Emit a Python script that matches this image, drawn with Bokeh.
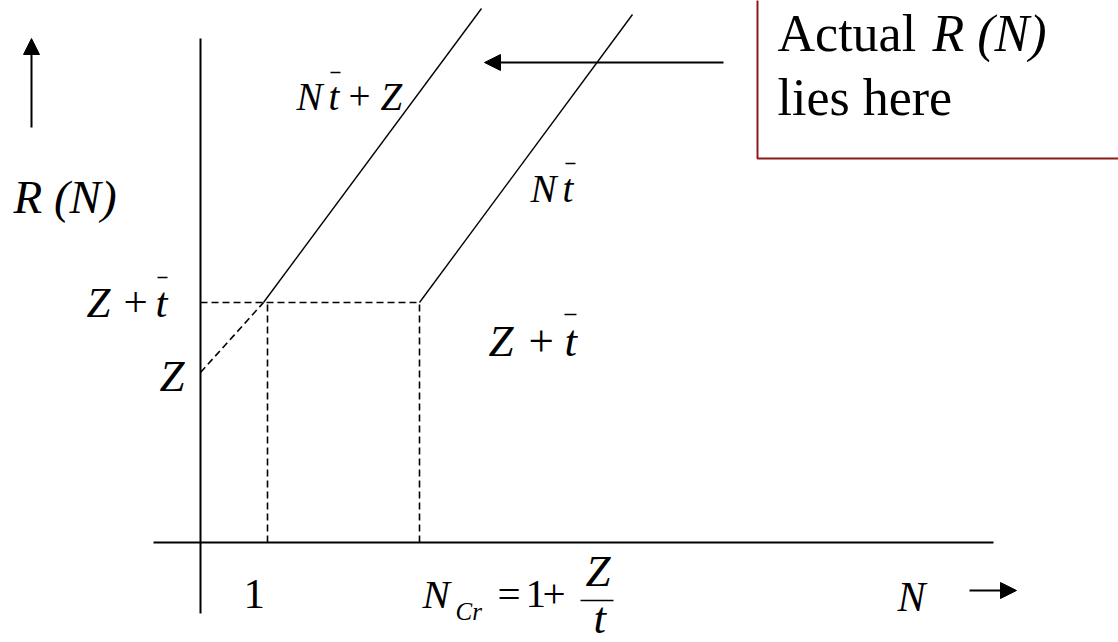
from bokeh.plotting import figure
from bokeh.models import Range1d, Arrow, NormalHead
from bokeh.core.properties import value
from bokeh.embed import file_html
from bokeh.resources import INLINE

# ---- schematic values (diagram units, origin at the axes crossing) ----
axis_x = [[0, 0], [-47, 793]]
axis_y = [[-71, 504], [0, 0]]

# R(N) = N*t + Z (upper line) and R(N) = N*t (lower line)
solid_x = [[63, 281], [219, 432]]
solid_y = [[240, 534], [240, 528]]

# dashed guides: Z -> Z+t, level Z+t, drops at N=1 and N_Cr
dashed_x = [[0, 63], [0, 219], [67, 67], [219, 219]]
dashed_y = [[170, 240], [240, 240], [0, 240], [0, 240]]

# arrows (x_start, y_start, x_end, y_end)
arrow_up = (-169, 415, -169, 504)
arrow_right = (769, -48, 816, -48)
arrow_left = (523, 480, 284, 480)

# callout box
box = dict(left=557, right=1000, bottom=384, top=700)

# labels: text, x, baseline y, size(px), style
labels = [
    ("R (N)", -187, 329, 47, "italic"),
    ("Actual", 577, 490, 52, "normal"),
    ("R (N)", 732, 490, 52, "italic"),
    ("lies here", 577, 426, 52, "normal"),
    # N t + Z
    ("N", 96, 432, 39, "italic"),
    ("t", 128, 432, 39, "italic"),
    ("+", 148, 432, 39, "normal"),
    ("Z", 180, 432, 39, "italic"),
    # N t
    ("N", 330, 340, 39, "italic"),
    ("t", 362, 340, 39, "italic"),
    # Z + t (left)
    ("Z", -114, 225, 43, "italic"),
    ("+", -77, 225, 43, "normal"),
    ("t", -45, 225, 43, "italic"),
    # Z (left)
    ("Z", -41, 150, 45, "italic"),
    # Z + t (right)
    ("Z", 288, 185, 45, "italic"),
    ("+", 328, 185, 45, "normal"),
    ("t", 364, 185, 45, "italic"),
    # x axis labels
    ("1", 43, -67, 43, "normal"),
    ("N", 222, -66, 41, "italic"),
    ("Cr", 255, -78, 25, "italic"),
    ("=", 297, -66, 41, "normal"),
    ("1", 325, -66, 41, "normal"),
    ("+", 342, -66, 41, "normal"),
    ("Z", 385, -45, 45, "italic"),
    ("t", 393, -92, 45, "italic"),
    ("N", 697, -70, 42, "italic"),
]

# overbars and fraction bar: (x0, y0, x1, y1, width)
bars = [
    (130, 470, 140, 470, 1.5),
    (365, 379, 375, 379, 1.5),
    (-43, 265, -33, 265, 1.5),
    (364, 228, 376, 228, 1.5),
    (380, -58, 413, -58, 1.5),
]

# the svg text renderer sits glyphs lower than the alphabetic baseline; lift by this share of the font size
BASELINE_LIFT = 0.36

p = figure(width=1118, height=642,
           x_range=Range1d(-200, 918), y_range=Range1d(-100, 542),
           output_backend="svg", toolbar_location=None,
           x_axis_location=None, y_axis_location=None, min_border=0)
p.grid.visible = False
p.outline_line_color = None
p.background_fill_color = "white"
p.border_fill_color = "white"

# callout box
p.quad(left=[box["left"]], right=[box["right"]], bottom=[box["bottom"]], top=[box["top"]],
       fill_color="white", line_color="#8B1A1A", line_width=2)

# axes
p.multi_line(xs=axis_x, ys=axis_y, line_color="black", line_width=2)
# solid response lines
p.multi_line(xs=solid_x, ys=solid_y, line_color="black", line_width=1.4)
# dashed guides
p.multi_line(xs=dashed_x, ys=dashed_y, line_color="black", line_width=1.6, line_dash="7 4")

for (x0, y0, x1, y1) in (arrow_up, arrow_right, arrow_left):
    p.add_layout(Arrow(end=NormalHead(size=16, fill_color="black", line_color="black"),
                       x_start=x0, y_start=y0, x_end=x1, y_end=y1,
                       line_color="black", line_width=2))

for (x0, y0, x1, y1, w) in bars:
    p.segment(x0=[x0], y0=[y0], x1=[x1], y1=[y1], line_color="black", line_width=w)

for (t, x, y, s, st) in labels:
    p.text(x=[x], y=[y + BASELINE_LIFT * s], text=[t], text_font=value("Liberation Serif"),
           text_font_size=f"{s}px", text_font_style=st, text_color="black",
           text_align="left", text_baseline="alphabetic")

open("out.html", "w").write(file_html(p, INLINE))
